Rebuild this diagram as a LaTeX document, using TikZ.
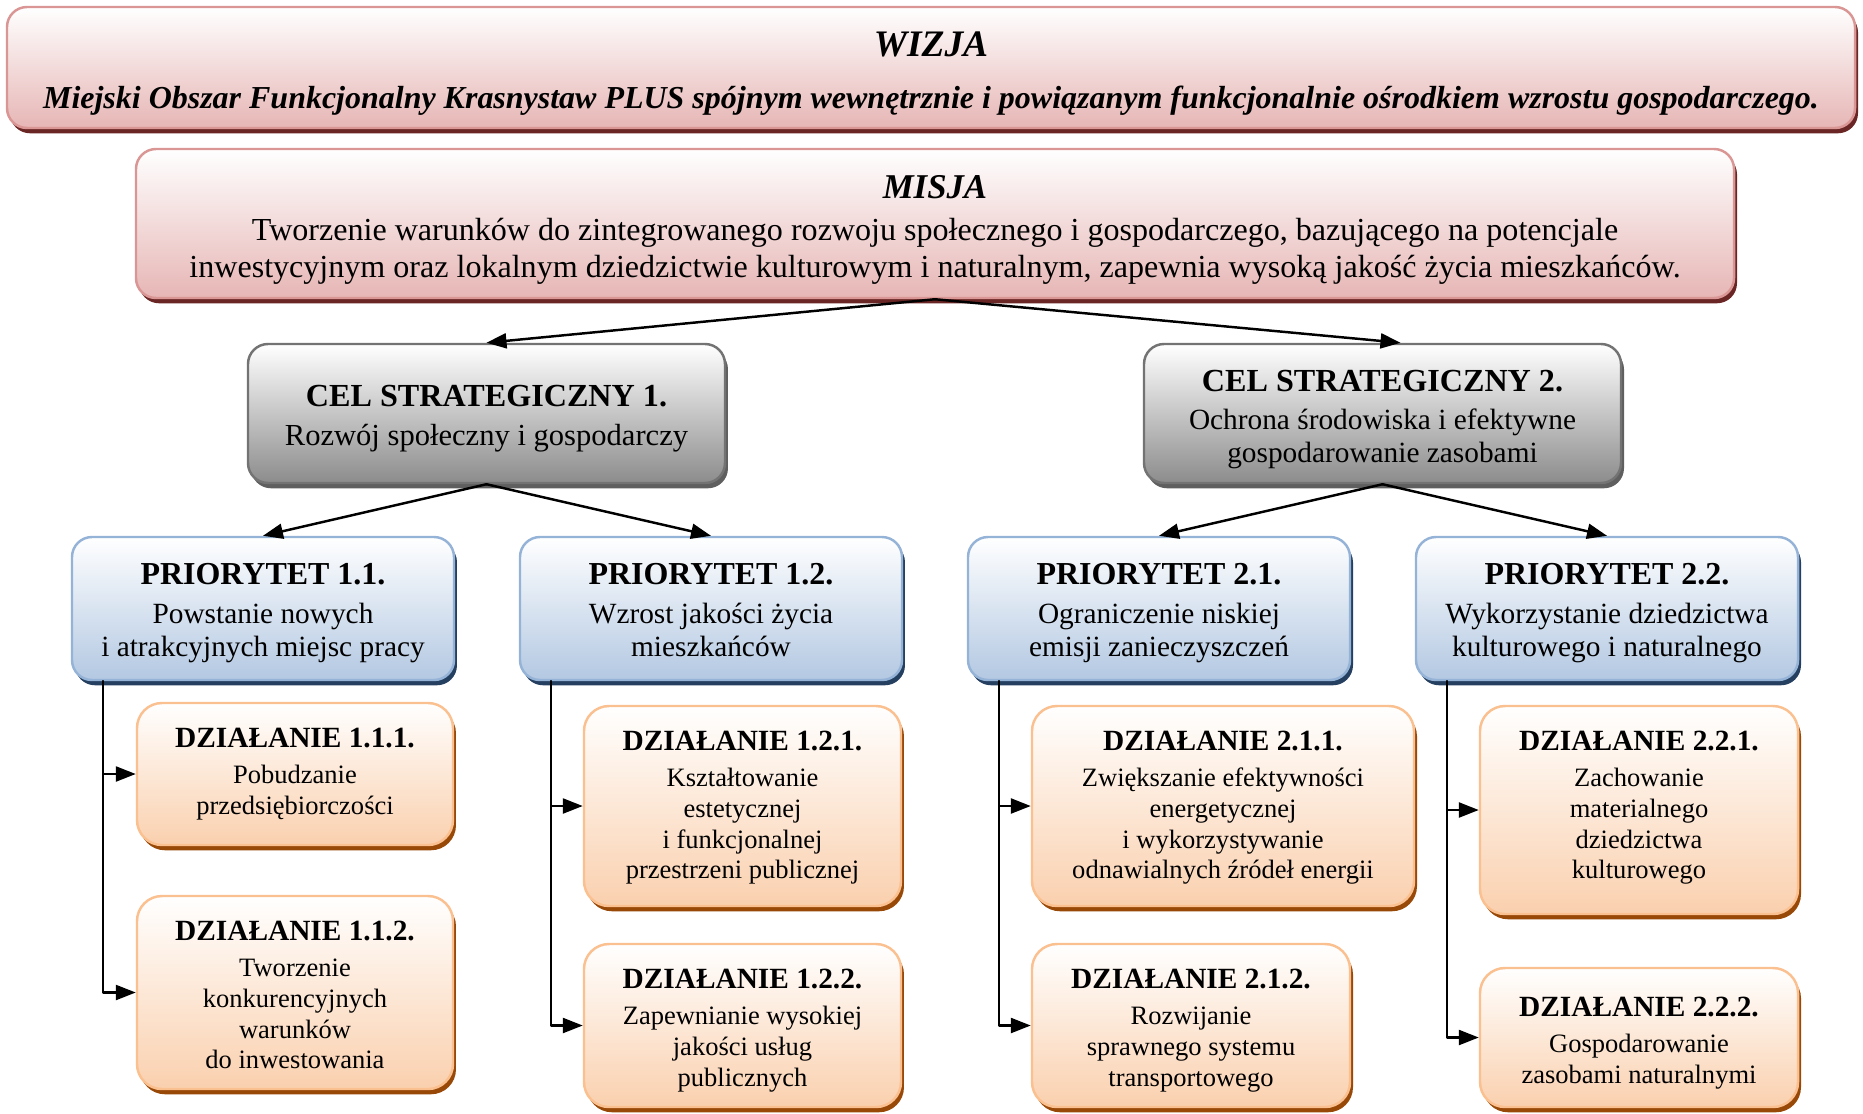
\documentclass[tikz,border=0pt]{standalone}
\usepackage{fontspec}
\setmainfont{Liberation Serif}
\usepackage{tikz}
\usetikzlibrary{arrows.meta}
\usetikzlibrary{calc}
\usetikzlibrary{positioning}
\usetikzlibrary{shadows}
\definecolor{wizja-ramka}{HTML}{D99694}
\definecolor{wizja-tlo}{HTML}{E6B6B5}
\definecolor{wizja-cien}{HTML}{6A2624}
\definecolor{cel-ramka}{HTML}{737373}
\definecolor{cel-tlo}{HTML}{8C8C8C}
\definecolor{cel-cien}{HTML}{5F5F5F}
\definecolor{prio-ramka}{HTML}{95B3D7}
\definecolor{prio-tlo}{HTML}{B3C8E2}
\definecolor{prio-cien}{HTML}{243F60}
\definecolor{dzial-ramka}{HTML}{FAC090}
\definecolor{dzial-tlo}{HTML}{FAD0AE}
\definecolor{dzial-cien}{HTML}{984807}
\newcommand{\wizjahead}{\fontsize{21.3}{24}\selectfont\bfseries\itshape}
\newcommand{\misjahead}{\fontsize{19.8}{22}\selectfont\bfseries\itshape}
\newcommand{\celhead}{\fontsize{18.3}{20.7}\selectfont\bfseries}
\newcommand{\priohead}{\fontsize{18.2}{20.7}\selectfont\bfseries}
\newcommand{\dzialhead}{\fontsize{16.7}{19.2}\selectfont\bfseries}

\begin{document}
\begin{tikzpicture}[x=0.02cm, y=-0.02cm, line cap=round, line join=round,
    kafel/.style={rounded corners=0.4cm, line width=1.4pt, inner sep=0pt},
    wymiar/.style 2 args={minimum width=#1*0.02cm, minimum height=#2*0.02cm},
    wizjabox/.style={kafel, draw=wizja-ramka, top color=white, bottom color=wizja-tlo,
        drop shadow={shadow xshift=1.7pt, shadow yshift=-3pt, fill=wizja-cien, opacity=1}},
    celbox/.style={kafel, draw=cel-ramka, top color=white, bottom color=cel-tlo,
        drop shadow={shadow xshift=1.7pt, shadow yshift=-3pt, fill=cel-cien, opacity=1}},
    priobox/.style={kafel, draw=prio-ramka, top color=white, bottom color=prio-tlo,
        drop shadow={shadow xshift=1.7pt, shadow yshift=-3pt, fill=prio-cien, opacity=1}},
    dzialbox/.style={kafel, rounded corners=0.5cm, draw=dzial-ramka, top color=white, bottom color=dzial-tlo,
        drop shadow={shadow xshift=1.7pt, shadow yshift=-3pt, fill=dzial-cien, opacity=1}},
    napis/.style={align=center, inner sep=0pt, font=#1},
    strzalka/.style={line width=1.4pt, -{Triangle[length=0.4cm, width=0.3cm]}}]
    % frame
    \useasboundingbox (0,0) rectangle (1863,1113);

    % vision
    \node (wizja) at (931,67.5) [wizjabox, wymiar={1848}{121}] {};
    \node (wizja-t) [napis={\fontsize{18.2}{20.7}\selectfont\bfseries\itshape}, below=0.52cm of wizja.north]
    {{\wizjahead WIZJA}\\[8.7pt]
     Miejski Obszar Funkcjonalny Krasnystaw PLUS spójnym wewnętrznie i powiązanym funkcjonalnie ośrodkiem wzrostu gospodarczego.};

    % mission
    \node (misja) at (935,223.5) [wizjabox, wymiar={1598}{149}] {};
    \node (misja-t) [napis={\fontsize{18.25}{21}\selectfont}, below=0.54cm of misja.north]
    {{\misjahead MISJA}\\[3.1pt]
     Tworzenie warunków do zintegrowanego rozwoju społecznego i gospodarczego, bazującego na potencjale\\
     inwestycyjnym oraz lokalnym dziedzictwie kulturowym i naturalnym, zapewnia wysoką jakość życia mieszkańców.};

    % strategic goals
    \node (cel1) at (486.5,413.5) [celbox, wymiar={477}{139}] {};
    \node (cel1-t) [napis={\fontsize{17.4}{19.8}\selectfont}, below=0.84cm of cel1.north]
    {{\celhead CEL STRATEGICZNY 1.}\\[2.5pt] Rozwój społeczny i gospodarczy};
    \node (cel2) at (1382.5,413.5) [celbox, wymiar={477}{139}] {};
    \node (cel2-t) [napis={\fontsize{16.7}{18.9}\selectfont}, below=0.54cm of cel2.north]
    {{\celhead CEL STRATEGICZNY 2.}\\[2.6pt] Ochrona środowiska i efektywne\\ gospodarowanie zasobami};

    % priorities
    \node (p11) at (263,608.5) [priobox, wymiar={382}{143}] {};
    \node (p11-t) [napis={\fontsize{16.7}{18.9}\selectfont}, below=0.55cm of p11.north]
    {{\priohead PRIORYTET 1.1.}\\[3.2pt] Powstanie nowych\\ i atrakcyjnych miejsc pracy};
    \node (p12) at (711,608.5) [priobox, wymiar={382}{143}] {};
    \node (p12-t) [napis={\fontsize{16.7}{18.9}\selectfont}, below=0.55cm of p12.north]
    {{\priohead PRIORYTET 1.2.}\\[3.2pt] Wzrost jakości życia\\ mieszkańców};
    \node (p21) at (1159,608.5) [priobox, wymiar={382}{143}] {};
    \node (p21-t) [napis={\fontsize{16.7}{18.9}\selectfont}, below=0.55cm of p21.north]
    {{\priohead PRIORYTET 2.1.}\\[3.2pt] Ograniczenie niskiej\\ emisji zanieczyszczeń};
    \node (p22) at (1607,608.5) [priobox, wymiar={382}{143}] {};
    \node (p22-t) [napis={\fontsize{16.7}{18.9}\selectfont}, below=0.55cm of p22.north]
    {{\priohead PRIORYTET 2.2.}\\[3.2pt] Wykorzystanie dziedzictwa\\ kulturowego i naturalnego};

    % actions
    \node (d111) at (295,774) [dzialbox, wymiar={316}{142}] {};
    \node (d111-t) [napis={\fontsize{15.1}{17.4}\selectfont}, below=0.52cm of d111.north]
    {{\dzialhead DZIAŁANIE 1.1.1.}\\[3.3pt] Pobudzanie\\ przedsiębiorczości};
    \node (d112) at (295,992.5) [dzialbox, wymiar={316}{193}] {};
    \node (d112-t) [napis={\fontsize{15.1}{17.4}\selectfont}, below=0.52cm of d112.north]
    {{\dzialhead DZIAŁANIE 1.1.2.}\\[3.3pt] Tworzenie\\ konkurencyjnych\\ warunków\\ do inwestowania};
    \node (d121) at (742.5,806) [dzialbox, wymiar={317}{200}] {};
    \node (d121-t) [napis={\fontsize{15.1}{17.4}\selectfont}, below=0.52cm of d121.north]
    {{\dzialhead DZIAŁANIE 1.2.1.}\\[3.3pt] Kształtowanie\\ estetycznej\\ i funkcjonalnej\\ przestrzeni publicznej};
    \node (d122) at (742.5,1025.5) [dzialbox, wymiar={317}{163}] {};
    \node (d122-t) [napis={\fontsize{15.1}{17.4}\selectfont}, below=0.52cm of d122.north]
    {{\dzialhead DZIAŁANIE 1.2.2.}\\[3.3pt] Zapewnianie wysokiej\\ jakości usług\\ publicznych};
    \node (d211) at (1223,806) [dzialbox, wymiar={382}{200}] {};
    \node (d211-t) [napis={\fontsize{15.1}{17.4}\selectfont}, below=0.52cm of d211.north]
    {{\dzialhead DZIAŁANIE 2.1.1.}\\[3.3pt] Zwiększanie efektywności\\ energetycznej\\ i wykorzystywanie\\ odnawialnych źródeł energii};
    \node (d212) at (1191,1025.5) [dzialbox, wymiar={318}{163}] {};
    \node (d212-t) [napis={\fontsize{15.1}{17.4}\selectfont}, below=0.52cm of d212.north]
    {{\dzialhead DZIAŁANIE 2.1.2.}\\[3.3pt] Rozwijanie\\ sprawnego systemu\\ transportowego};
    \node (d221) at (1639,810) [dzialbox, wymiar={318}{208}] {};
    \node (d221-t) [napis={\fontsize{15.1}{17.4}\selectfont}, below=0.52cm of d221.north]
    {{\dzialhead DZIAŁANIE 2.2.1.}\\[3.3pt] Zachowanie\\ materialnego\\ dziedzictwa\\ kulturowego};
    \node (d222) at (1639,1037.5) [dzialbox, wymiar={318}{139}] {};
    \node (d222-t) [napis={\fontsize{15.1}{17.4}\selectfont}, below=0.59cm of d222.north]
    {{\dzialhead DZIAŁANIE 2.2.2.}\\[3.3pt] Gospodarowanie\\ zasobami naturalnymi};

    % arrows down the tree
    \draw[strzalka] (misja.south) -- (cel1.north);
    \draw[strzalka] (misja.south) -- ([xshift=0.36cm]cel2.north);
    \draw[strzalka] (cel1.south) -- (p11.north);
    \draw[strzalka] (cel1.south) -- (p12.north);
    \draw[strzalka] (cel2.south) -- (p21.north);
    \draw[strzalka] (cel2.south) -- (p22.north);

    % branches to the actions
    \coordinate (p11x) at ([xshift=0.64cm]p11.south west);
    \coordinate (p12x) at ([xshift=0.64cm]p12.south west);
    \coordinate (p21x) at ([xshift=0.64cm]p21.south west);
    \coordinate (p22x) at ([xshift=0.64cm]p22.south west);
    \draw[strzalka] (p11x) |- (d111);
    \draw[strzalka] (p11x) |- (d112);
    \draw[strzalka] (p12x) |- (d121);
    \draw[strzalka] (p12x) |- (d122);
    \draw[strzalka] (p21x) |- (d211);
    \draw[strzalka] (p21x) |- (d212);
    \draw[strzalka] (p22x) |- (d221);
    \draw[strzalka] (p22x) |- (d222);

\end{tikzpicture}
\end{document}
